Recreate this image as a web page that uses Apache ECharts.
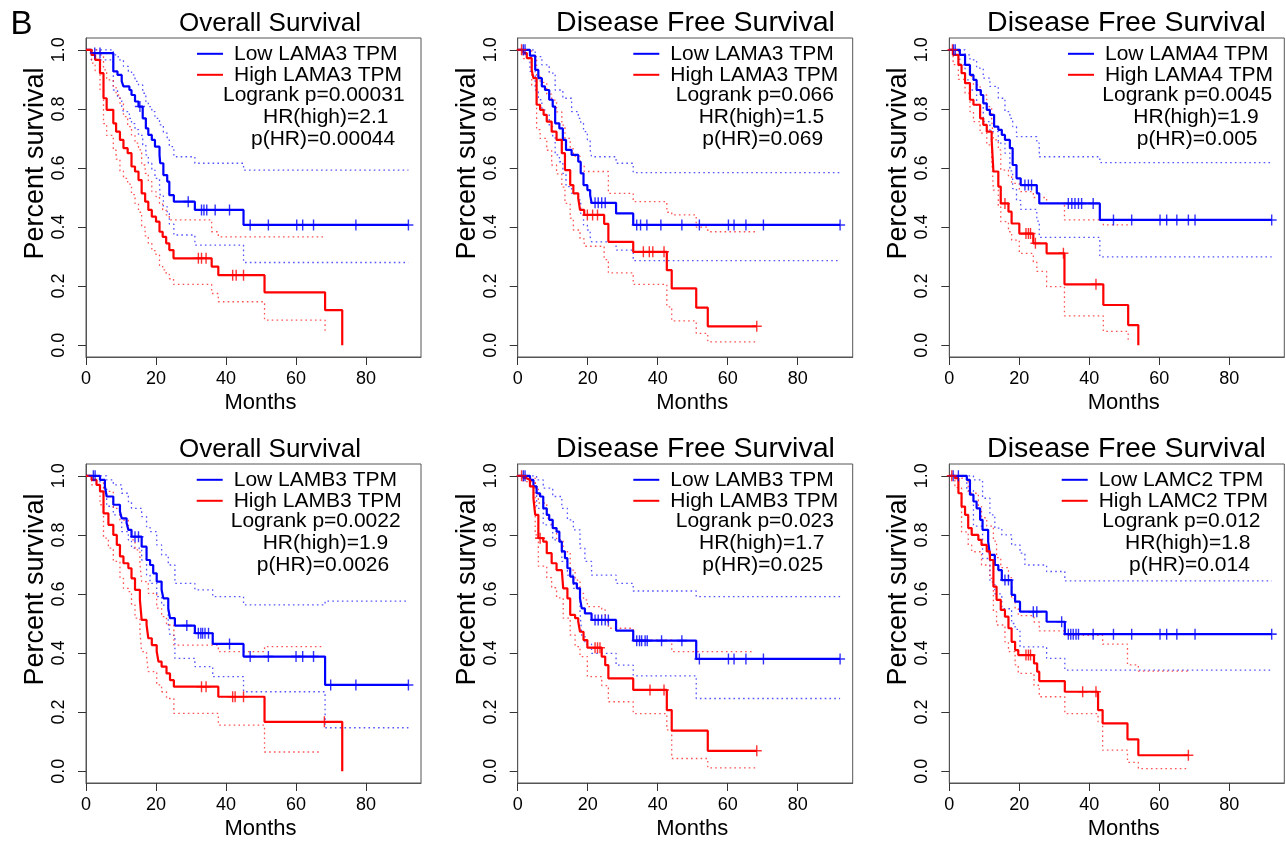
<!DOCTYPE html>
<html><head><meta charset="utf-8">
<script src="https://cdn.jsdelivr.net/npm/echarts@6/dist/echarts.min.js"></script>
<style>html,body{margin:0;padding:0;background:#fff}#c{width:1286px;height:844px}</style>
</head><body><div id="c"></div>
<script>
// ---------------- DATA (months, survival) ----------------
const panelTitles = ['Overall Survival','Disease Free Survival','Disease Free Survival','Overall Survival','Disease Free Survival','Disease Free Survival'];
const panelGenes = ['LAMA3','LAMA3','LAMA4','LAMB3','LAMB3','LAMC2'];
const logrankP = ['0.00031','0.066','0.0045','0.0022','0.023','0.012'];
const hrHigh = ['2.1','1.5','1.9','1.9','1.7','1.8'];
const pHR = ['0.00044','0.069','0.005','0.0026','0.025','0.014'];
const xTicks = [0,20,40,60,80];
const yTicks = [0,0.2,0.4,0.6,0.8,1.0];

// Panel 1: OS LAMA3
const p1Low = [[0,1],[1.5,0.989],[7.8,0.927],[9.0,0.915],[10.2,0.893],[10.7,0.876],[12.4,0.864],[13.0,0.847],[14.0,0.825],[15.0,0.808],[16.2,0.768],[17.1,0.734],[17.8,0.712],[18.8,0.695],[19.7,0.672],[21.0,0.644],[21.2,0.616],[22.1,0.576],[23.2,0.554],[23.8,0.508],[25.1,0.486],[31.1,0.458],[45.0,0.407],[92.1,0.407]];
const p1LowCensor = [2.5,4.0,15.4,29.2,33.0,33.7,34.5,36.9,41.0,46.9,52.1,60.2,61.9,65.0,77.1,92.1];
const p1High = [[0,1],[1.6,0.983],[2.6,0.966],[4.0,0.921],[5.0,0.836],[5.9,0.797],[7.8,0.751],[8.6,0.723],[9.7,0.695],[10.7,0.667],[11.9,0.650],[13.0,0.605],[14.0,0.588],[15.0,0.559],[15.9,0.514],[16.9,0.486],[17.8,0.458],[18.8,0.435],[20.0,0.418],[21.0,0.384],[21.9,0.367],[22.9,0.345],[23.8,0.322],[25.0,0.294],[35.9,0.266],[37.8,0.237],[51.0,0.179],[68.3,0.119],[73.2,0]];
const p1HighCensor = [32.1,33.0,34.3,41.9,42.9,45.0];
const p1LowUpper = [[0,1],[7.8,0.983],[9.2,0.966],[10.7,0.944],[12.1,0.927],[13.0,0.915],[14.0,0.893],[15.0,0.881],[16.2,0.853],[17.1,0.825],[17.8,0.808],[18.8,0.791],[19.7,0.768],[21.0,0.746],[22.1,0.718],[23.2,0.695],[23.8,0.672],[25.1,0.638],[31.1,0.616],[45.0,0.593],[92.1,0.593]];
const p1LowLower = [[0,1],[1.5,0.966],[7.8,0.864],[9.0,0.836],[10.2,0.808],[10.7,0.791],[12.4,0.768],[13.0,0.750],[14.0,0.730],[15.0,0.710],[16.2,0.678],[17.1,0.644],[17.8,0.616],[18.8,0.593],[19.7,0.565],[21.0,0.537],[21.2,0.508],[22.1,0.469],[23.2,0.446],[23.8,0.410],[25.1,0.373],[31.1,0.339],[45.0,0.280],[92.1,0.280]];
const p1HighUpper = [[0,1],[4.0,0.983],[5.0,0.932],[5.9,0.898],[7.8,0.876],[8.6,0.847],[9.7,0.819],[10.7,0.774],[11.9,0.740],[13.0,0.712],[14.0,0.684],[15.0,0.661],[15.9,0.610],[16.9,0.582],[17.8,0.554],[18.8,0.520],[20.0,0.503],[21.0,0.480],[21.9,0.458],[22.9,0.441],[23.8,0.424],[35.9,0.384],[37.8,0.367],[68.3,0.367]];
const p1HighLower = [[0,1],[1.6,0.955],[2.6,0.930],[4.0,0.865],[5.0,0.750],[5.9,0.710],[7.8,0.660],[8.6,0.630],[9.7,0.590],[10.7,0.565],[11.9,0.545],[13.0,0.510],[14.0,0.480],[15.0,0.450],[15.9,0.400],[16.9,0.370],[17.8,0.345],[18.8,0.320],[20.0,0.305],[21.0,0.270],[21.9,0.255],[22.9,0.240],[23.8,0.225],[25.0,0.206],[35.9,0.175],[37.8,0.147],[51.0,0.085],[68.3,0.045]];

// Panel 2: DFS LAMA3
const p2Low = [[0,1],[3.5,0.980],[5.0,0.932],[5.9,0.904],[6.9,0.876],[7.8,0.864],[9.0,0.831],[10.0,0.808],[10.7,0.751],[11.9,0.734],[12.9,0.695],[13.8,0.661],[15.4,0.644],[17.3,0.621],[18.0,0.582],[18.8,0.542],[19.9,0.525],[20.7,0.508],[21.1,0.482],[28.1,0.446],[33.0,0.407],[92.1,0.407]];
const p2LowCensor = [1.6,2.1,22.1,23.0,24.0,25.0,34.0,35.1,36.9,40.9,46.9,51.9,60.2,61.8,65.2,70.2,92.1];
const p2High = [[0,1],[1.6,0.989],[2.6,0.972],[4.0,0.932],[4.5,0.904],[5.4,0.814],[6.4,0.797],[7.4,0.780],[8.3,0.757],[9.7,0.723],[11.1,0.695],[12.6,0.650],[13.5,0.593],[15.0,0.542],[15.9,0.514],[17.3,0.497],[17.8,0.458],[19.0,0.441],[24.7,0.411],[25.9,0.350],[33.0,0.316],[42.6,0.254],[44.0,0.192],[51.0,0.127],[54.3,0.064],[68.3,0.064]];
const p2HighCensor = [1.1,19.9,21.4,22.8,35.9,37.6,38.6,41.8,68.3];
const p2LowUpper = [[0,1],[5.0,0.977],[6.9,0.949],[9.0,0.921],[10.7,0.864],[12.9,0.836],[15.4,0.791],[17.3,0.768],[18.0,0.751],[18.8,0.723],[19.9,0.695],[20.7,0.661],[21.1,0.638],[28.1,0.616],[33.0,0.584],[92.1,0.584]];
const p2LowLower = [[0,1],[3.5,0.927],[5.0,0.864],[5.9,0.831],[6.9,0.797],[7.8,0.780],[9.0,0.740],[10.0,0.706],[10.7,0.644],[11.9,0.621],[12.9,0.582],[13.8,0.537],[15.4,0.514],[17.3,0.492],[18.0,0.446],[18.8,0.407],[19.9,0.390],[20.7,0.367],[21.1,0.350],[28.1,0.322],[33.0,0.286],[92.1,0.286]];
const p2HighUpper = [[0,1],[4.0,0.977],[5.4,0.910],[6.4,0.890],[8.3,0.850],[9.7,0.830],[11.1,0.790],[12.6,0.745],[13.5,0.700],[15.0,0.665],[15.9,0.640],[17.8,0.610],[19.0,0.588],[25.9,0.514],[33.0,0.486],[42.6,0.450],[44.0,0.441],[51.0,0.400],[54.3,0.384],[68.3,0.384]];
const p2HighLower = [[0,1],[1.6,0.970],[4.0,0.880],[5.4,0.730],[6.4,0.700],[8.3,0.660],[9.7,0.610],[11.1,0.580],[12.6,0.535],[13.5,0.480],[15.0,0.430],[15.9,0.390],[17.8,0.360],[19.0,0.335],[24.7,0.290],[25.9,0.245],[33.0,0.206],[42.6,0.130],[44.0,0.082],[51.0,0.040],[54.3,0.011],[68.3,0.011]];

// Panel 3: DFS LAMA4
const p3Low = [[0,1],[3.0,0.983],[4.5,0.949],[5.9,0.915],[6.9,0.898],[7.8,0.864],[9.0,0.847],[9.7,0.819],[10.7,0.797],[11.6,0.780],[12.8,0.740],[14.0,0.729],[15.0,0.712],[15.9,0.695],[17.3,0.667],[18.1,0.610],[19.2,0.565],[20.4,0.542],[25.0,0.514],[25.7,0.480],[43.0,0.424],[92.1,0.424]];
const p3LowCensor = [1.2,1.7,21.6,22.6,23.5,34.0,35.0,35.9,36.9,37.8,41.1,46.9,52.1,60.2,62.1,65.0,68.3,70.2,92.1];
const p3High = [[0,1],[1.1,0.983],[2.6,0.949],[3.5,0.921],[4.5,0.887],[5.9,0.831],[6.9,0.814],[8.8,0.768],[9.7,0.746],[10.7,0.723],[12.1,0.695],[12.6,0.588],[14.0,0.537],[14.7,0.480],[16.9,0.452],[17.8,0.412],[20.0,0.378],[24.0,0.345],[27.8,0.311],[32.9,0.206],[44.0,0.136],[51.1,0.068],[54.0,0]];
const p3HighCensor = [0.9,15.9,21.9,22.6,23.2,24.6,32.6,41.9];
const p3LowUpper = [[0,1],[4.5,0.983],[5.9,0.966],[7.8,0.938],[9.7,0.904],[11.6,0.876],[14.0,0.836],[15.9,0.791],[17.3,0.768],[18.1,0.740],[19.2,0.706],[25.0,0.684],[25.7,0.638],[43.0,0.618],[92.1,0.618]];
const p3LowLower = [[0,1],[3.0,0.949],[4.5,0.898],[5.9,0.864],[7.8,0.808],[9.7,0.757],[11.6,0.723],[14.0,0.684],[15.9,0.650],[17.3,0.590],[18.1,0.530],[19.2,0.490],[20.4,0.460],[25.0,0.420],[25.7,0.365],[43.0,0.299],[92.1,0.299]];
const p3HighUpper = [[0,1],[2.6,0.983],[4.5,0.949],[5.9,0.910],[6.9,0.881],[8.8,0.847],[10.7,0.808],[12.1,0.763],[12.6,0.695],[14.0,0.661],[14.7,0.593],[16.9,0.571],[17.8,0.548],[20.0,0.520],[24.0,0.500],[27.8,0.480],[32.9,0.424],[44.0,0.407],[51.1,0.407]];
const p3HighLower = [[0,1],[1.1,0.950],[2.6,0.900],[4.5,0.853],[5.9,0.791],[6.9,0.757],[8.8,0.718],[10.7,0.678],[12.1,0.638],[12.6,0.525],[14.0,0.469],[14.7,0.418],[16.9,0.384],[17.8,0.356],[20.0,0.311],[24.0,0.282],[25.0,0.250],[27.8,0.198],[32.9,0.099],[44.0,0.047],[51.1,0.011]];

// Panel 4: OS LAMB3
const p4Low = [[0,1],[4.0,0.986],[5.4,0.964],[5.9,0.930],[7.8,0.902],[9.7,0.879],[10.2,0.856],[11.6,0.840],[12.1,0.817],[13.0,0.794],[15.9,0.760],[17.3,0.715],[18.3,0.698],[19.2,0.670],[20.2,0.642],[21.6,0.614],[22.1,0.585],[23.5,0.551],[24.0,0.518],[25.4,0.493],[31.1,0.467],[36.2,0.431],[45.0,0.388],[68.3,0.292],[92.1,0.292]];
const p4LowCensor = [2.1,2.6,14.0,15.0,28.8,32.1,32.8,33.3,34.0,35.0,41.0,46.9,52.1,60.0,61.9,65.0,69.9,77.1,92.1];
const p4High = [[0,1],[1.6,0.986],[3.0,0.969],[4.0,0.947],[5.0,0.873],[6.4,0.834],[7.8,0.800],[8.8,0.766],[9.7,0.727],[10.7,0.704],[12.1,0.687],[13.0,0.653],[14.0,0.614],[15.4,0.580],[15.9,0.512],[17.3,0.495],[17.8,0.450],[18.8,0.427],[20.2,0.405],[20.7,0.371],[21.6,0.354],[23.0,0.331],[24.0,0.308],[25.1,0.286],[37.8,0.252],[51.0,0.167],[73.2,0]];
const p4HighCensor = [33.0,34.3,41.9,42.6,45.0,68.1];
const p4LowUpper = [[0,1],[5.9,0.986],[7.8,0.969],[10.2,0.941],[12.1,0.913],[13.0,0.890],[15.9,0.862],[17.3,0.828],[18.3,0.811],[20.2,0.766],[21.6,0.732],[23.5,0.698],[25.4,0.636],[31.1,0.614],[36.2,0.591],[45.0,0.563],[68.3,0.576],[92.1,0.576]];
const p4LowLower = [[0,1],[4.0,0.961],[5.9,0.897],[7.8,0.868],[10.2,0.811],[12.1,0.783],[13.0,0.755],[15.9,0.715],[17.3,0.664],[18.3,0.636],[20.2,0.591],[21.6,0.562],[23.5,0.500],[24.0,0.460],[25.4,0.382],[31.1,0.354],[36.2,0.320],[45.0,0.269],[68.3,0.147],[92.1,0.147]];
const p4HighUpper = [[0,1],[4.0,0.986],[5.0,0.947],[7.8,0.890],[9.7,0.850],[12.1,0.816],[13.0,0.783],[14.0,0.749],[15.4,0.704],[15.9,0.642],[17.8,0.602],[20.2,0.552],[21.6,0.523],[23.0,0.495],[25.1,0.427],[37.8,0.405],[51.0,0.422],[67.5,0.422]];
const p4HighLower = [[0,1],[1.6,0.969],[4.0,0.902],[5.0,0.789],[6.4,0.755],[7.8,0.710],[9.7,0.653],[10.7,0.619],[12.1,0.608],[13.0,0.563],[14.0,0.518],[15.4,0.473],[15.9,0.405],[17.3,0.388],[17.8,0.337],[20.2,0.292],[21.6,0.269],[23.0,0.246],[25.1,0.196],[37.8,0.156],[51.0,0.065],[67.3,0.065]];

// Panel 5: DFS LAMB3
const p5Low = [[0,1],[3.5,0.986],[4.5,0.964],[5.4,0.941],[6.4,0.930],[7.3,0.890],[8.3,0.868],[9.0,0.851],[10.0,0.823],[11.1,0.811],[11.9,0.777],[12.6,0.744],[13.5,0.721],[14.2,0.687],[15.0,0.659],[15.9,0.636],[16.9,0.619],[17.8,0.585],[18.3,0.551],[19.2,0.534],[21.1,0.512],[28.1,0.476],[33.0,0.442],[51.0,0.380],[92.1,0.380]];
const p5LowCensor = [1.6,2.1,22.1,23.0,24.0,25.0,25.9,34.0,34.8,35.4,36.4,37.0,41.1,46.9,51.9,60.2,61.8,65.2,70.2,92.1];
const p5High = [[0,1],[1.6,0.992],[2.6,0.986],[3.5,0.964],[4.5,0.924],[5.0,0.868],[5.9,0.789],[7.3,0.777],[8.3,0.738],[9.7,0.704],[11.1,0.681],[12.6,0.676],[13.0,0.619],[14.2,0.585],[15.0,0.529],[16.4,0.518],[17.3,0.506],[17.8,0.472],[18.8,0.444],[19.9,0.418],[24.0,0.388],[25.0,0.359],[25.9,0.314],[33.0,0.275],[42.6,0.207],[44.0,0.137],[54.3,0.069],[68.3,0.069]];
const p5HighCensor = [1.1,6.4,22.1,22.8,23.5,37.8,41.8,68.3];
const p5LowUpper = [[0,1],[5.4,0.986],[7.3,0.958],[10.0,0.930],[12.6,0.890],[14.2,0.851],[15.9,0.817],[17.8,0.755],[19.2,0.710],[21.1,0.664],[28.1,0.636],[33.0,0.610],[51.0,0.591],[92.1,0.591]];
const p5LowLower = [[0,1],[3.5,0.964],[5.4,0.890],[7.3,0.834],[10.0,0.783],[12.6,0.710],[14.2,0.664],[15.9,0.619],[17.8,0.540],[18.3,0.460],[19.2,0.430],[21.1,0.399],[28.1,0.359],[33.0,0.323],[51.0,0.246],[92.1,0.246]];
const p5HighUpper = [[0,1],[3.5,0.992],[5.0,0.964],[5.9,0.908],[8.3,0.857],[9.7,0.823],[11.1,0.783],[13.0,0.743],[15.0,0.681],[16.4,0.647],[17.8,0.602],[18.8,0.580],[19.9,0.557],[24.0,0.546],[25.0,0.506],[25.9,0.484],[33.0,0.444],[44.0,0.405],[67.2,0.405]];
const p5HighLower = [[0,1],[1.6,0.980],[5.0,0.800],[5.9,0.694],[8.3,0.655],[9.7,0.621],[11.1,0.587],[13.0,0.518],[15.0,0.461],[16.4,0.422],[17.8,0.388],[19.9,0.320],[24.0,0.290],[25.9,0.235],[33.0,0.195],[42.6,0.140],[44.0,0.043],[54.3,0.011],[68.3,0.011]];

// Panel 6: DFS LAMC2
const p6Low = [[0,1],[5.0,0.986],[5.9,0.936],[6.9,0.913],[7.8,0.890],[8.8,0.851],[9.5,0.817],[11.1,0.777],[11.6,0.732],[13.0,0.698],[14.0,0.681],[15.0,0.647],[17.8,0.597],[18.8,0.574],[20.2,0.540],[27.8,0.506],[33.0,0.464],[92.1,0.464]];
const p6LowCensor = [1.1,2.6,15.9,16.9,24.0,25.0,32.1,34.0,34.7,35.4,36.2,36.9,41.1,46.9,52.1,60.2,62.1,65.0,70.2,92.1];
const p6High = [[0,1],[1.6,0.992],[2.6,0.941],[3.5,0.896],[4.5,0.868],[5.4,0.823],[6.4,0.800],[8.3,0.783],[9.2,0.766],[10.7,0.744],[11.6,0.715],[12.6,0.625],[13.5,0.580],[14.7,0.546],[15.9,0.523],[16.9,0.484],[17.8,0.438],[18.8,0.410],[19.7,0.393],[24.2,0.365],[25.1,0.337],[25.7,0.305],[33.0,0.269],[42.5,0.207],[43.8,0.162],[50.9,0.108],[54.0,0.054],[68.3,0.054]];
const p6HighCensor = [0.7,21.9,22.6,23.2,38.1,41.9,68.3];
const p6LowUpper = [[0,1],[6.9,0.986],[9.5,0.924],[11.6,0.868],[13.0,0.823],[15.0,0.800],[17.8,0.766],[20.2,0.738],[21.6,0.698],[27.8,0.676],[33.0,0.644],[92.1,0.644]];
const p6LowLower = [[0,1],[5.0,0.950],[6.9,0.830],[9.5,0.720],[11.6,0.640],[13.0,0.600],[15.0,0.550],[17.8,0.500],[18.8,0.480],[20.2,0.421],[27.8,0.382],[33.0,0.342],[92.1,0.342]];
const p6HighUpper = [[0,1],[3.5,0.992],[5.4,0.941],[8.3,0.896],[9.2,0.858],[10.7,0.830],[12.6,0.779],[13.5,0.723],[14.7,0.689],[16.9,0.655],[17.8,0.584],[18.8,0.550],[19.7,0.527],[24.2,0.505],[25.7,0.475],[33.0,0.460],[43.8,0.430],[50.9,0.360],[54.0,0.339],[68.3,0.339]];
const p6HighLower = [[0,1],[1.6,0.960],[3.5,0.810],[5.4,0.766],[6.4,0.743],[9.2,0.698],[11.6,0.653],[12.6,0.540],[13.5,0.495],[15.9,0.438],[16.9,0.405],[18.8,0.360],[19.7,0.331],[24.2,0.291],[25.7,0.252],[33.0,0.195],[42.5,0.167],[43.8,0.071],[50.9,0.030],[54.0,0.009],[68.3,0.009]];

// ---------------- LAYOUT ----------------
const panels = [
  {low:p1Low, lowC:p1LowCensor, high:p1High, highC:p1HighCensor, lu:p1LowUpper, ll:p1LowLower, hu:p1HighUpper, hl:p1HighLower},
  {low:p2Low, lowC:p2LowCensor, high:p2High, highC:p2HighCensor, lu:p2LowUpper, ll:p2LowLower, hu:p2HighUpper, hl:p2HighLower},
  {low:p3Low, lowC:p3LowCensor, high:p3High, highC:p3HighCensor, lu:p3LowUpper, ll:p3LowLower, hu:p3HighUpper, hl:p3HighLower},
  {low:p4Low, lowC:p4LowCensor, high:p4High, highC:p4HighCensor, lu:p4LowUpper, ll:p4LowLower, hu:p4HighUpper, hl:p4HighLower},
  {low:p5Low, lowC:p5LowCensor, high:p5High, highC:p5HighCensor, lu:p5LowUpper, ll:p5LowLower, hu:p5HighUpper, hl:p5HighLower},
  {low:p6Low, lowC:p6LowCensor, high:p6High, highC:p6HighCensor, lu:p6LowUpper, ll:p6LowLower, hu:p6HighUpper, hl:p6HighLower}
];
const gridLefts = [86, 517.7, 949.3];
const gridTops = [38, 464];
const GW = 335, GH = 319;
const titleX = [270, 695.5, 1126.5];
const legRel = [111, 115.6, 118.7, 110.7, 115.6, 112.4];
const lrRel = [137, 158, 153, 144.7, 158, 153];
const hrRel = [177, 181, 184, 176.7, 181.3, 175.7];
const phRel = [165, 184.6, 187.4, 170.7, 184.6, 179.7];
const FONT = '"Liberation Sans", Arial, Helvetica, sans-serif';
const BLUE = '#0000ff', RED = '#ff0000';
const BLUE_CI = 'rgba(40,40,255,0.8)', RED_CI = 'rgba(255,40,40,0.8)';
const PLUS = 'path://M0,4.3 H4.3 V0 H5.7 V4.3 H10 V5.7 H5.7 V10 H4.3 V5.7 H0 Z';

function survAt(curve, t) {
  let s = curve[0][1];
  for (const p of curve) { if (p[0] <= t) s = p[1]; else break; }
  return s;
}
function stepLine(name, data, i, color, width, dotted, z) {
  return {type:'line', name, xAxisIndex:i, yAxisIndex:i, data, step:'end', symbol:'none', showSymbol:false,
    lineStyle:{color, width, type: dotted ? [1.6, 3.2] : 'solid'}, itemStyle:{color}, silent:true, z, animation:false};
}
function censor(name, curve, times, i, color) {
  return {type:'scatter', name, xAxisIndex:i, yAxisIndex:i, data: times.map(t => [t, survAt(curve, t)]),
    symbol: PLUS, symbolSize: [10, 11], itemStyle:{color}, silent:true, z:6, animation:false};
}

const grids = [], xAxes = [], yAxes = [], series = [], legends = [], graphics = [];
panels.forEach((p, i) => {
  const col = i % 3, row = Math.floor(i / 3);
  const gx = gridLefts[col], gy = gridTops[row];
  grids.push({left: gx, top: gy, width: GW, height: GH, show: true, borderColor: '#555', borderWidth: 1, backgroundColor: 'transparent'});
  xAxes.push({gridIndex: i, type: 'value', min: 0, max: 95.7,
    axisLine: {show: true, onZero: false, lineStyle: {color: '#555', width: 1}},
    axisTick: {show: true, length: 8, customValues: xTicks, lineStyle: {color: '#333'}},
    axisLabel: {customValues: xTicks, fontSize: 18, margin: 13, color: '#000', fontFamily: FONT},
    splitLine: {show: false},
    name: 'Months', nameLocation: 'middle', nameGap: 35,
    nameTextStyle: {fontSize: 22, color: '#000', fontFamily: FONT, padding: [0, 0, 0, 14]}});
  yAxes.push({gridIndex: i, type: 'value', min: -0.04, max: 1.04,
    axisLine: {show: true, onZero: false, lineStyle: {color: '#555', width: 1}},
    axisTick: {show: true, length: 8, customValues: yTicks, lineStyle: {color: '#333'}},
    axisLabel: {customValues: yTicks, rotate: 90, fontSize: 18, margin: 18, color: '#000', fontFamily: FONT,
      formatter: v => Number(v).toFixed(1)},
    splitLine: {show: false},
    name: 'Percent survival', nameLocation: 'middle', nameGap: 28, nameRotate: 90,
    nameTextStyle: {fontSize: 27, color: '#000', fontFamily: FONT, padding: [0, 0, 0, 68]}});
  const lowName = 'Low ' + panelGenes[i] + ' TPM', highName = 'High ' + panelGenes[i] + ' TPM';
  series.push(stepLine('low upper ' + i, p.lu, i, BLUE_CI, 1.3, true, 2));
  series.push(stepLine('low lower ' + i, p.ll, i, BLUE_CI, 1.3, true, 2));
  series.push(stepLine('high upper ' + i, p.hu, i, RED_CI, 1.3, true, 2));
  series.push(stepLine('high lower ' + i, p.hl, i, RED_CI, 1.3, true, 2));
  series.push(stepLine(lowName, p.low, i, BLUE, 2.2, false, 4));
  series.push(stepLine(highName, p.high, i, RED, 2.2, false, 5));
  series.push(censor(lowName, p.low, p.lowC, i, BLUE));
  series.push(censor(highName, p.high, p.highC, i, RED));
  legends.push({data: [{name: lowName, icon: 'rect'}, {name: highName, icon: 'rect'}], orient: 'vertical',
    left: gx + legRel[i], top: gy + 5.3, padding: 0, itemGap: 0, itemWidth: 26, itemHeight: 2,
    selectedMode: false,
    textStyle: {fontSize: 21, fontFamily: FONT, color: '#000', lineHeight: 20, padding: [0, 0, 0, 6]}});
  const tx = titleX[col];
  const tSize = panelTitles[i] === 'Overall Survival' ? 26 : 28.5;
  graphics.push({type: 'text', x: tx, y: gy - 14.5, silent: true,
    style: {text: panelTitles[i], fill: '#000', font: tSize + 'px ' + FONT, textAlign: 'center', textVerticalAlign: 'middle', align: 'center', verticalAlign: 'middle'}});
  const stats = [['Logrank p=' + logrankP[i], lrRel[i], 57.5], ['HR(high)=' + hrHigh[i], hrRel[i], 79], ['p(HR)=' + pHR[i], phRel[i], 101]];
  stats.forEach(s => graphics.push({type: 'text', x: gx + s[1], y: gy + s[2], silent: true,
    style: {text: s[0], fill: '#000', font: '21px ' + FONT, textAlign: 'left', textVerticalAlign: 'middle', align: 'left', verticalAlign: 'middle'}}));
});
graphics.push({type: 'text', x: 10.5, y: 25, silent: true,
  style: {text: 'B', fill: '#000', font: '33px ' + FONT, textAlign: 'left', textVerticalAlign: 'middle', align: 'left', verticalAlign: 'middle'}});

const chart = echarts.init(document.getElementById('c'), null, {renderer: 'canvas'});
chart.setOption({
  backgroundColor: '#ffffff',
  animation: false,
  grid: grids, xAxis: xAxes, yAxis: yAxes, series, legend: legends, graphic: graphics
});
</script></body></html>
